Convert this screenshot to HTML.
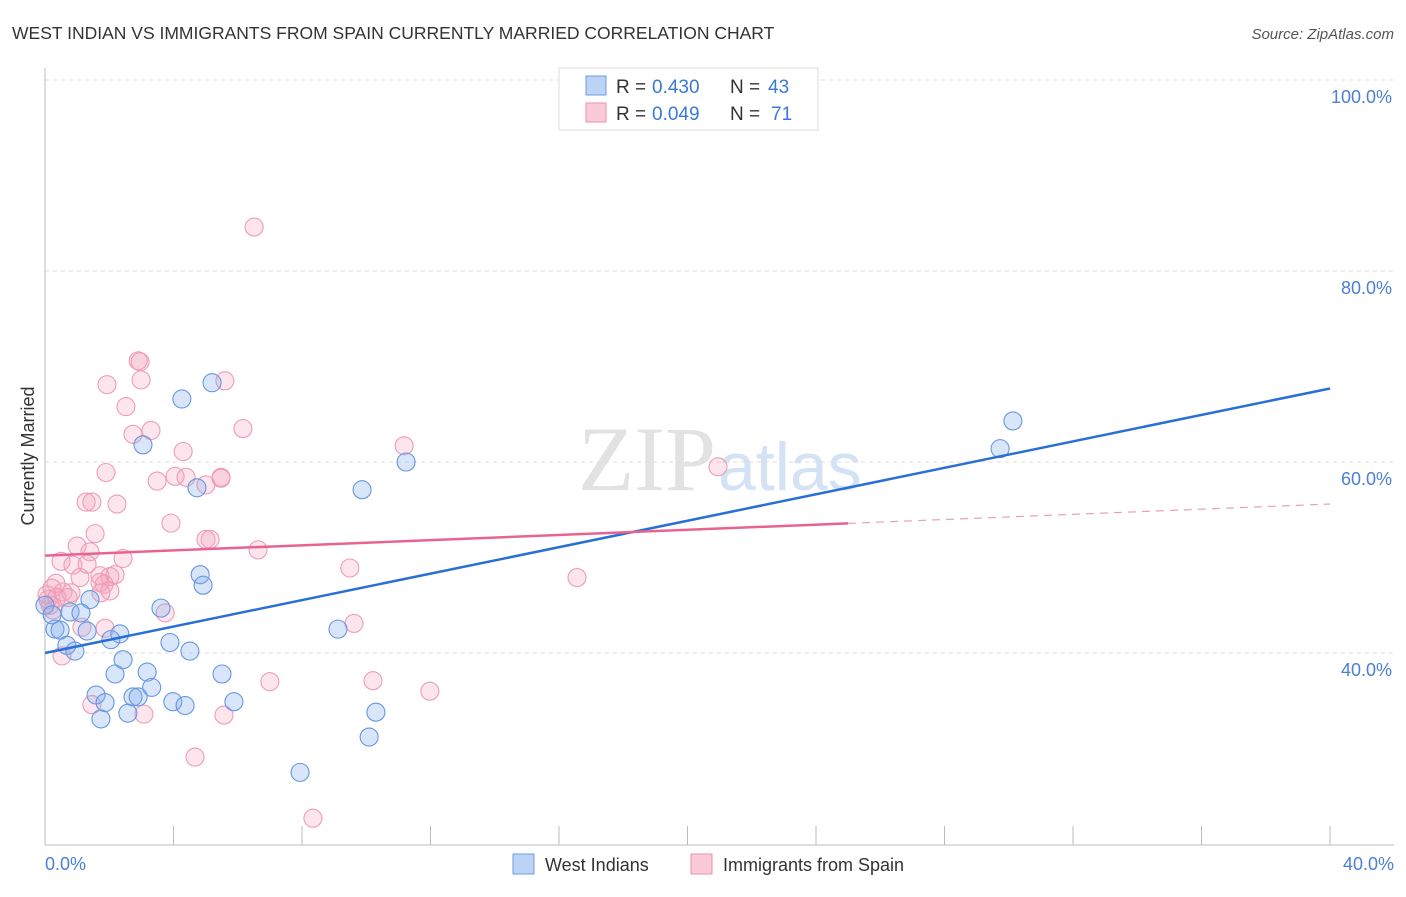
<!DOCTYPE html>
<html><head><meta charset="utf-8"><style>
body{margin:0;background:#fff;font-family:"Liberation Sans",sans-serif;}
</style></head><body>
<svg width="1406" height="892" xmlns="http://www.w3.org/2000/svg" font-family="Liberation Sans, sans-serif">
<text x="12" y="39" font-size="17.5" fill="#333">WEST INDIAN VS IMMIGRANTS FROM SPAIN CURRENTLY MARRIED CORRELATION CHART</text>
<text x="1394" y="39" font-size="15" fill="#555" font-style="italic" text-anchor="end">Source: ZipAtlas.com</text>
<text x="716" y="490" font-size="92" fill="#e2e2e2" text-anchor="end" font-family="Liberation Serif, serif">ZIP</text>
<text x="718" y="490" font-size="68" fill="#d3e2f5">atlas</text>
<g id="grid"></g>
<g id="axes"></g>
<g id="pts"></g>
<g id="lines"></g>
<text transform="translate(34,456) rotate(-90)" font-size="18" fill="#333" text-anchor="middle">Currently Married</text>
<text x="45" y="870" font-size="18" fill="#4a7fd6">0.0%</text>
<text x="1394" y="870" font-size="18" fill="#4a7fd6" text-anchor="end">40.0%</text>
<g>
<rect x="559" y="68" width="259" height="62" fill="#fff" stroke="#ddd"/>
<rect x="586" y="76" width="20" height="19" fill="#bcd3f5" stroke="#6d9ee6"/>
<rect x="586" y="103" width="20" height="19" fill="#fbcad8" stroke="#ec92ad"/>
<text x="616" y="93" font-size="19" fill="#333">R =</text>
<text x="652" y="93" font-size="19" fill="#3a78d8">0.430</text>
<text x="730" y="93" font-size="19" fill="#333">N =</text>
<text x="768" y="93" font-size="19" fill="#3a78d8">43</text>
<text x="616" y="120" font-size="19" fill="#333">R =</text>
<text x="652" y="120" font-size="19" fill="#3a78d8">0.049</text>
<text x="730" y="120" font-size="19" fill="#333">N =</text>
<text x="771" y="120" font-size="19" fill="#3a78d8">71</text>
</g>
<g>
<rect x="513" y="854" width="21" height="20" fill="#bcd3f5" stroke="#6d9ee6"/>
<text x="545" y="871" font-size="18" fill="#333">West Indians</text>
<rect x="691" y="854" width="21" height="20" fill="#fbcad8" stroke="#ec92ad"/>
<text x="723" y="871" font-size="18" fill="#333">Immigrants from Spain</text>
</g>
</svg>
<script>
const yTicks=[40,60,80,100];
const xTicks=[0,4,8,12,16,20,24,28,32,36,40];
const blueX=[30.13,29.73,11.24,9.87,5.20,4.26,3.05,4.73,4.83,4.92,3.61,3.89,4.51,9.12,1.40,0.78,1.12,0.31,0.47,1.31,2.33,2.05,0.68,0.93,2.43,3.18,2.18,5.51,3.32,1.59,2.74,2.90,1.87,3.98,4.36,5.88,2.58,1.74,10.30,10.09,7.94,0.0,0.22];
const blueY=[64.3,61.4,60.0,57.1,68.3,66.6,61.8,57.3,48.2,47.1,44.7,41.1,40.2,42.5,45.6,44.3,44.2,42.5,42.4,42.3,42.0,41.4,40.8,40.2,39.3,38.0,37.8,37.8,36.4,35.6,35.4,35.4,34.8,34.9,34.5,34.9,33.7,33.1,33.8,31.2,27.5,45.0,44.0];
const pinkX=[6.51,2.90,2.96,1.93,2.99,5.60,2.52,2.74,3.30,6.16,11.18,20.95,4.30,1.90,3.49,4.05,4.39,5.48,5.48,5.01,1.28,1.46,2.24,3.92,1.56,5.01,5.14,6.63,1.00,1.40,2.43,0.50,0.87,1.31,9.49,16.56,1.09,1.71,2.02,2.18,0.34,1.71,1.84,0.22,0.56,0.81,2.02,1.74,0.09,0.37,0.72,0.25,3.74,9.62,1.15,1.87,0.53,7.00,10.21,11.98,1.46,3.08,5.57,4.67,8.34,0.16,0.06];
const pinkY=[84.6,70.6,70.5,68.1,68.6,68.5,65.8,62.9,63.3,63.5,61.7,59.5,61.1,58.9,58.0,58.5,58.4,58.3,58.4,57.6,55.8,55.8,55.6,53.6,52.5,51.9,51.9,50.8,51.2,50.6,49.9,49.6,49.2,49.3,48.9,47.9,47.9,48.1,48.0,48.2,47.3,47.4,47.2,46.8,46.4,46.3,46.5,46.3,45.6,45.8,45.8,44.5,44.2,43.1,42.7,42.6,39.7,37.0,37.1,36.0,34.6,33.6,33.5,29.1,22.7,45.0,46.1];
const blueLine=[40.0,67.7];
const pinkLine=[50.2,55.6];
const pinkSolidEnd=25;
const xs=v=>45+v/40*1285, ys=v=>80+(100-v)/20*191;
const NS="http://www.w3.org/2000/svg";
function mk(t,a,p){const e=document.createElementNS(NS,t);for(const k in a)e.setAttribute(k,a[k]);p.appendChild(e);return e;}
const grid=document.getElementById('grid'),axes=document.getElementById('axes'),pts=document.getElementById('pts'),lines=document.getElementById('lines');
yTicks.forEach(v=>{
 const l=mk('line',{x1:45,x2:1394,y1:ys(v),y2:ys(v),stroke:'#ddd','stroke-dasharray':'4,4'},grid);
 
 
 const t=mk('text',{x:1392,y:ys(v)+23,'font-size':18,fill:'#4a7fd6','text-anchor':'end'},grid);
 t.textContent=v.toFixed(1)+'%';
 
 
});
const ax=mk('line',{x1:45,x2:45,y1:68,y2:845,stroke:'#bbb'},axes);


const bx=mk('line',{x1:45,x2:1394,y1:845,y2:845,stroke:'#bbb'},axes);


xTicks.forEach(v=>{
 const t=mk('line',{x1:xs(v),x2:xs(v),y1:826,y2:845,stroke:'#bbb'},axes);
 
 
});
pinkX.forEach((x,i)=>{
 const c=mk('circle',{cx:xs(x),cy:ys(pinkY[i]),r:9,fill:'rgba(245,160,188,0.28)',stroke:'#ee9cb5','stroke-width':1.1},pts);
 
 
});
blueX.forEach((x,i)=>{
 const c=mk('circle',{cx:xs(x),cy:ys(blueY[i]),r:9,fill:'rgba(130,172,235,0.3)',stroke:'#6596e2','stroke-width':1.1},pts);
 
 
});
const bl=mk('line',{x1:xs(0),y1:ys(blueLine[0]),x2:xs(40),y2:ys(blueLine[1]),stroke:'#2a6fd6','stroke-width':2.5},lines);


const pm=pinkLine[0]+(pinkLine[1]-pinkLine[0])*pinkSolidEnd/40;
const pl=mk('line',{x1:xs(0),y1:ys(pinkLine[0]),x2:xs(pinkSolidEnd),y2:ys(pm),stroke:'#e8648f','stroke-width':2.5},lines);


const pd=mk('line',{x1:xs(pinkSolidEnd),y1:ys(pm),x2:xs(40),y2:ys(pinkLine[1]),stroke:'#e8a0b6','stroke-width':1.2,'stroke-dasharray':'8,6'},lines);


</script>
</body></html>
